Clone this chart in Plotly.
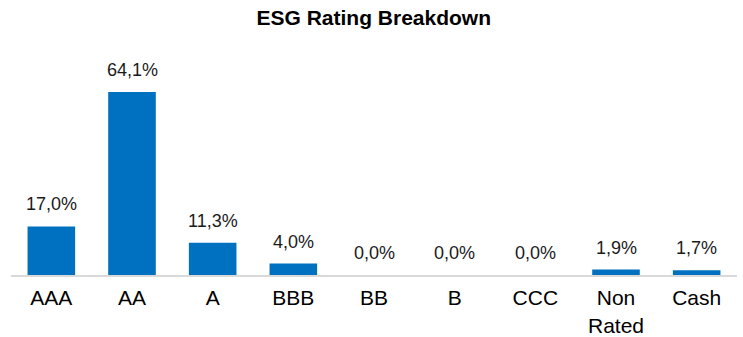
import plotly.graph_objects as go

# ESG rating distribution (% of portfolio)
categories = ["AAA", "AA", "A", "BBB", "BB", "B", "CCC", "Non<br>Rated", "Cash"]
weights = [17.0, 64.1, 11.3, 4.0, 0.0, 0.0, 0.0, 1.9, 1.7]

BAR_COLOR = "#0070C0"
FONT = "Arial, 'Liberation Sans', sans-serif"


def fmt_pct(v):
    return f"{v:.1f}%".replace(".", ",")


fig = go.Figure(
    go.Bar(
        x=categories,
        y=weights,
        marker=dict(color=BAR_COLOR, line=dict(width=0)),
        width=0.59,
        hoverinfo="skip",
    )
)

# value labels above each bar
for cat, val in zip(categories, weights):
    fig.add_annotation(
        x=cat,
        y=val,
        text=fmt_pct(val),
        showarrow=False,
        yanchor="bottom",
        yshift=10,
        font=dict(family=FONT, size=18, color="#1a1a1a"),
    )

fig.update_layout(
    width=743,
    height=337,
    margin=dict(l=11, r=6, t=40, b=62),
    paper_bgcolor="white",
    plot_bgcolor="white",
    showlegend=False,
    title=dict(
        text="<b>ESG Rating Breakdown</b>",
        x=0.503,
        xanchor="center",
        y=1 - 18 / 337,
        yanchor="middle",
        font=dict(family=FONT, size=21, color="#000000"),
    ),
    xaxis=dict(
        type="category",
        automargin=False,
        showgrid=False,
        showline=True,
        linecolor="#d9d9d9",
        linewidth=2,
        ticks="",
        ticklabelstandoff=3,
        tickfont=dict(family=FONT, size=21, color="#000000"),
        fixedrange=True,
    ),
    yaxis=dict(
        range=[0, 82.3],
        visible=False,
        showgrid=False,
        zeroline=False,
        fixedrange=True,
    ),
)

fig.write_html("out.html")
